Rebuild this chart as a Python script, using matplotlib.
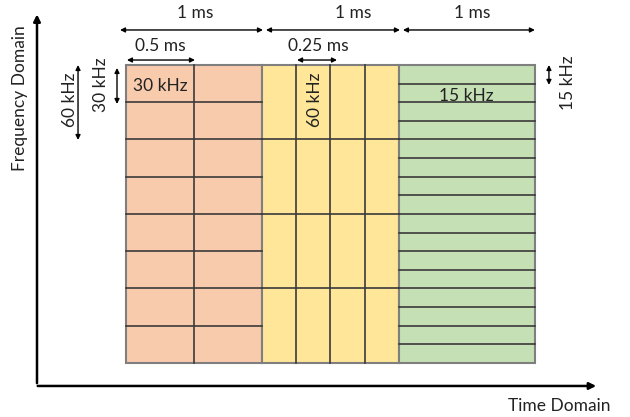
import matplotlib
matplotlib.use('Agg')
import matplotlib.pyplot as plt
from matplotlib.patches import Rectangle

# numerology blocks: each block is 1 ms long and 240 kHz tall
block_labels = ['30 kHz', '60 kHz', '15 kHz']
block_scs_khz = [30, 60, 15]          # subcarrier spacing
block_slot_ms = [0.5, 0.25, 1.0]      # slot duration
block_start_ms = [0, 1, 2]
block_len_ms = 1.0
band_khz = 240
block_colors = ['#F8CBAD', '#FFE699', '#C5E0B4']

plt.rcParams['font.family'] = ['Lato', 'DejaVu Sans']
fs = 12.5
tc = '#222222'

fig = plt.figure(figsize=(6.3, 4.17), dpi=100)
ax = fig.add_axes([0, 0, 1, 1])
# pixel mapping: 0 ms -> x=126px, 1 ms = 136.3px ; 0 kHz -> 54px from bottom, 1 kHz = 1.2417px
ax.set_xlim(-126 / 136.3, (630 - 126) / 136.3)
ax.set_ylim(-54 / 1.2417, (417 - 54) / 1.2417)
ax.axis('off')

grid_c = '#3a3a3a'
for x0, scs, slot, col in zip(block_start_ms, block_scs_khz, block_slot_ms, block_colors):
    ax.add_patch(Rectangle((x0, 0), block_len_ms, band_khz, facecolor=col,
                           edgecolor='#7f7f7f', lw=1.5, zorder=1))
    ncol = int(round(block_len_ms / slot))
    nrow = int(round(band_khz / scs))
    for i in range(1, ncol):
        ax.plot([x0 + i * slot] * 2, [0, band_khz], color=grid_c, lw=1.2, zorder=2)
    for j in range(1, nrow):
        ax.plot([x0, x0 + block_len_ms], [j * scs] * 2, color=grid_c, lw=1.2, zorder=2)

# axes arrows
ax.annotate('', xy=(-0.653, 283), xytext=(-0.653, -18.5),
            arrowprops=dict(arrowstyle='-|>', color='black', lw=1.8, mutation_scale=10))
ax.annotate('', xy=(3.47, -18.5), xytext=(-0.668, -18.5),
            arrowprops=dict(arrowstyle='-|>', color='black', lw=1.8, mutation_scale=10))
ax.text(-0.778, 213, 'Frequency Domain', rotation=90, ha='center', va='center',
        fontsize=fs, color=tc)
ax.text(3.176, -35, 'Time Domain', ha='center', va='center', fontsize=fs, color=tc)


def dim(p1, p2):
    ax.annotate('', xy=p2, xytext=p1,
                arrowprops=dict(arrowstyle='<|-|>', color='black', lw=1.0,
                                mutation_scale=7, shrinkA=0, shrinkB=0))


# 1 ms dimension arrows
dim((-0.044, 268.2), (1.005, 268.2))
dim((1.027, 268.2), (2.01, 268.2))
dim((2.032, 268.2), (3.0, 268.2))
for x in [0.506, 1.665, 2.538]:
    ax.text(x, 282, '1 ms', ha='center', va='center', fontsize=fs, color=tc)

# slot durations
dim((0.007, 244), (0.506, 244))
ax.text(0.249, 255, '0.5 ms', ha='center', va='center', fontsize=fs, color=tc)
dim((1.255, 244), (1.548, 244))
ax.text(1.409, 255, '0.25 ms', ha='center', va='center', fontsize=fs, color=tc)

# subcarrier spacings
ax.text(0.05, 223, block_labels[0], ha='left', va='center', fontsize=fs, color=tc)
ax.text(1.387, 211.8, block_labels[1], rotation=90, ha='center', va='center',
        fontsize=fs, color=tc)
ax.text(2.494, 215, block_labels[2], ha='center', va='center', fontsize=fs, color=tc)

dim((-0.352, 240), (-0.352, 179.6))
ax.text(-0.411, 211.8, '60 kHz', rotation=90, ha='center', va='center', fontsize=fs, color=tc)
dim((-0.066, 237.6), (-0.066, 208.6))
ax.text(-0.185, 223.9, '30 kHz', rotation=90, ha='center', va='center', fontsize=fs, color=tc)
dim((3.103, 240), (3.103, 224))
ax.text(3.243, 226, '15 kHz', rotation=90, ha='center', va='center', fontsize=fs, color=tc)

fig.savefig('out.png', dpi=100)
